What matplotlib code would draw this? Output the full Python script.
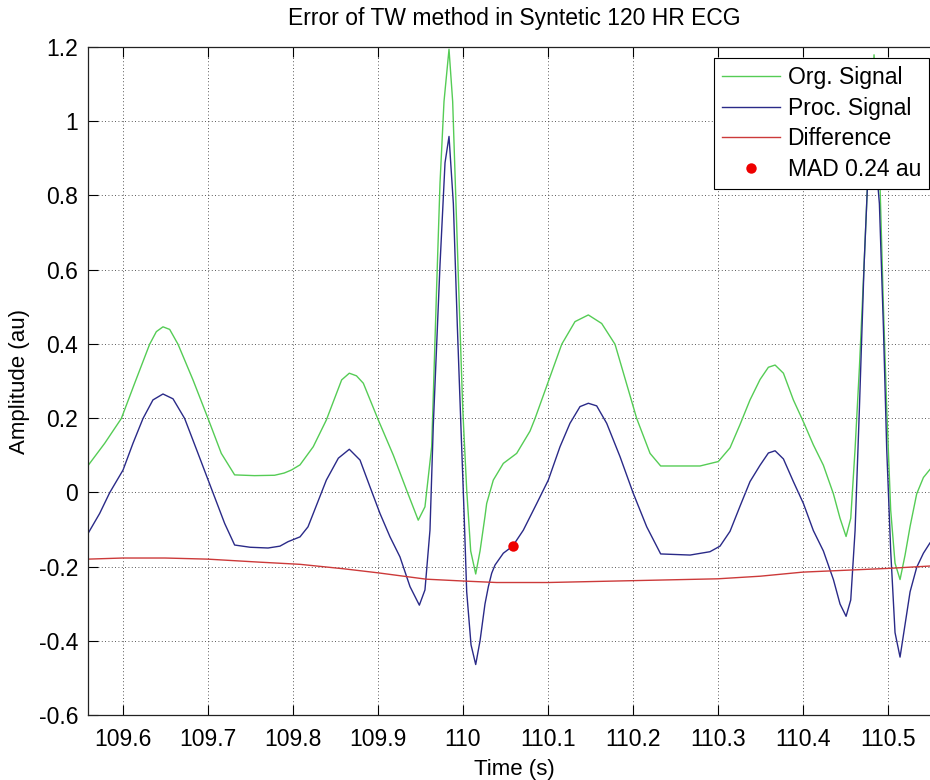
"""
Error of TW method on a synthetic 120 bpm ECG: original vs processed signal.
"""
import numpy as np
import matplotlib
matplotlib.use('Agg')
import matplotlib.pyplot as plt

plt.rcParams.update({
    'font.family': ['Liberation Sans', 'DejaVu Sans'],
    'font.size': 16.5,
    'xtick.labelsize': 16.5,
    'ytick.labelsize': 16.5,
    'axes.labelsize': 16,
    'axes.titlesize': 16.5,
    'legend.fontsize': 16.5,
})

# ---- data ----
org_t = [109.5592, 109.5788, 109.5984, 109.6141, 109.6317, 109.6396, 109.6474, 109.6553,
         109.6651, 109.6827, 109.7004, 109.7160, 109.7317, 109.7550, 109.7787, 109.7900,
         109.7984, 109.8086, 109.8242, 109.8396, 109.8576, 109.8666, 109.8750, 109.8831,
         109.9007, 109.9184, 109.9340, 109.9477, 109.9556, 109.9635, 109.9654, 109.9694,
         109.9733, 109.9780, 109.9839, 109.9882, 109.9921, 109.9960, 110.0000, 110.0047,
         110.0094, 110.0153, 110.0204, 110.0262, 110.0282, 110.0360, 110.0478, 110.0635,
         110.0792, 110.0851, 110.1165, 110.1321, 110.1478, 110.1635, 110.1792, 110.2047,
         110.2204, 110.2329, 110.2792, 110.3007, 110.3145, 110.3263, 110.3380, 110.3498,
         110.3596, 110.3675, 110.3773, 110.3890, 110.4008, 110.4125, 110.4243, 110.4361,
         110.4439, 110.4510, 110.4565, 110.4616, 110.4667, 110.4722, 110.4773, 110.4839,
         110.4902, 110.4949, 110.4988, 110.5035, 110.5086, 110.5145, 110.5204, 110.5263,
         110.5341, 110.5420, 110.5498, 110.5620]
org_v = [0.072, 0.132, 0.199, 0.294, 0.399, 0.433, 0.446, 0.439,
         0.399, 0.303, 0.199, 0.105, 0.047, 0.045, 0.046, 0.052,
         0.060, 0.074, 0.123, 0.195, 0.303, 0.321, 0.314, 0.294,
         0.195, 0.100, 0.006, -0.075, -0.039, 0.123, 0.260, 0.558,
         0.833, 1.053, 1.194, 1.053, 0.778, 0.502, 0.227, 0.007,
         -0.158, -0.220, -0.158, -0.065, -0.030, 0.033, 0.078, 0.105,
         0.165, 0.199, 0.399, 0.460, 0.478, 0.455, 0.399, 0.199,
         0.105, 0.071, 0.071, 0.083, 0.120, 0.183, 0.249, 0.304,
         0.337, 0.343, 0.321, 0.249, 0.190, 0.128, 0.073, -0.004,
         -0.070, -0.119, -0.070, 0.117, 0.337, 0.613, 0.888, 1.179,
         0.888, 0.503, 0.227, -0.048, -0.191, -0.235, -0.169, -0.092,
         -0.004, 0.040, 0.062, 0.085]

proc_t = [109.5592, 109.5729, 109.5847, 109.6004, 109.6121, 109.6239, 109.6356, 109.6474,
          109.6592, 109.6729, 109.6886, 109.7062, 109.7200, 109.7317, 109.7500, 109.7710,
          109.7850, 109.7945, 109.8086, 109.8180, 109.8242, 109.8396, 109.8537, 109.8666,
          109.8792, 109.8909, 109.9027, 109.9145, 109.9262, 109.9380, 109.9490, 109.9556,
          109.9615, 109.9654, 109.9733, 109.9792, 109.9839, 109.9890, 109.9937, 109.9980,
          110.0015, 110.0047, 110.0098, 110.0153, 110.0204, 110.0262, 110.0302, 110.0341,
          110.0380, 110.0478, 110.0588, 110.0713, 110.0871, 110.1007, 110.1145, 110.1262,
          110.1380, 110.1478, 110.1576, 110.1694, 110.1851, 110.2007, 110.2165, 110.2329,
          110.2675, 110.2909, 110.3027, 110.3145, 110.3263, 110.3380, 110.3498, 110.3596,
          110.3675, 110.3773, 110.3890, 110.4008, 110.4125, 110.4243, 110.4361, 110.4439,
          110.4510, 110.4565, 110.4616, 110.4667, 110.4722, 110.4773, 110.4835, 110.4902,
          110.4949, 110.4988, 110.5035, 110.5086, 110.5145, 110.5204, 110.5263, 110.5341,
          110.5420, 110.5498, 110.5620]
proc_v = [-0.111, -0.057, -0.001, 0.060, 0.132, 0.199, 0.249, 0.265,
          0.252, 0.199, 0.105, -0.001, -0.084, -0.142, -0.148, -0.150,
          -0.145, -0.133, -0.120, -0.093, -0.057, 0.033, 0.092, 0.116,
          0.087, 0.015, -0.057, -0.120, -0.174, -0.254, -0.304, -0.263,
          -0.102, 0.180, 0.613, 0.888, 0.959, 0.778, 0.447, 0.172,
          -0.048, -0.268, -0.411, -0.464, -0.400, -0.301, -0.254, -0.218,
          -0.196, -0.164, -0.145, -0.102, -0.030, 0.033, 0.123, 0.186,
          0.231, 0.240, 0.233, 0.186, 0.096, -0.003, -0.093, -0.166,
          -0.169, -0.160, -0.145, -0.105, -0.037, 0.029, 0.073, 0.106,
          0.112, 0.090, 0.029, -0.030, -0.103, -0.158, -0.235, -0.301,
          -0.334, -0.290, -0.103, 0.227, 0.613, 0.888, 0.960, 0.778,
          0.447, 0.117, -0.158, -0.378, -0.444, -0.356, -0.268, -0.202,
          -0.164, -0.136, -0.110]

diff_t = [109.5592, 109.600, 109.650, 109.700, 109.760, 109.8086, 109.860, 109.9007,
          109.957, 110.0007, 110.040, 110.100, 110.220, 110.300, 110.350, 110.400,
          110.450, 110.500, 110.562]
diff_v = [-0.180, -0.177, -0.177, -0.180, -0.188, -0.194, -0.206, -0.217,
          -0.234, -0.239, -0.243, -0.243, -0.237, -0.233, -0.226, -0.215,
          -0.210, -0.205, -0.197]

mad_t = [110.0588]
mad_v = [-0.144]
mad_label = 'MAD 0.24 au'

x_ticks = [109.6, 109.7, 109.8, 109.9, 110.0, 110.1, 110.2, 110.3, 110.4, 110.5]
x_ticklabels = ['109.6', '109.7', '109.8', '109.9', '110', '110.1', '110.2',
                '110.3', '110.4', '110.5']
y_ticks = [-0.6, -0.4, -0.2, 0.0, 0.2, 0.4, 0.6, 0.8, 1.0, 1.2]
y_ticklabels = ['-0.6', '-0.4', '-0.2', '0', '0.2', '0.4', '0.6', '0.8', '1', '1.2']

fig = plt.figure(figsize=(9.3, 7.8), dpi=100)
# axes runs slightly past the right edge of the picture, as in the reference crop
ax = fig.add_axes([88 / 930, 65 / 780, 852 / 930, 668 / 780])

ax.plot(org_t, org_v, color='#55cc55', lw=1.0, label='Org. Signal')
ax.plot(proc_t, proc_v, color='#2a2a88', lw=1.0, label='Proc. Signal')
ax.plot(diff_t, diff_v, color='#cc3a3a', lw=1.0, label='Difference')
ax.plot(mad_t, mad_v, 'o', color='#ee0000', ms=7.5, mec='none', label=mad_label)

ax.set_xlim(109.5592, 110.5615)
ax.set_ylim(-0.6, 1.2)
ax.set_xticks(x_ticks)
ax.set_xticklabels(x_ticklabels)
ax.set_yticks(y_ticks)
ax.set_yticklabels(y_ticklabels)
ax.tick_params(direction='in', length=7, width=0.8, top=True, right=True)
ax.tick_params(axis='x', pad=9)
ax.tick_params(axis='y', pad=7)
ax.grid(True, color='#222222', linestyle=(0, (1, 3)), linewidth=0.6)
for s in ax.spines.values():
    s.set_linewidth(0.9)
    s.set_color('#222222')

ax.set_xlabel('Time (s)', labelpad=6)
ax.set_ylabel('Amplitude (au)', labelpad=6)
ax.set_title('Error of TW method in Syntetic 120 HR ECG', pad=16)

leg = ax.legend(loc='upper right', bbox_to_anchor=(929 / 930, 1 - 58 / 780),
                bbox_transform=fig.transFigure, borderaxespad=0, fancybox=False,
                framealpha=1, edgecolor='black', handlelength=2.5,
                labelspacing=0.33, borderpad=0.35, handletextpad=0.35)
leg.get_frame().set_linewidth(0.8)

fig.savefig('out.png', dpi=100)
plt.close(fig)
